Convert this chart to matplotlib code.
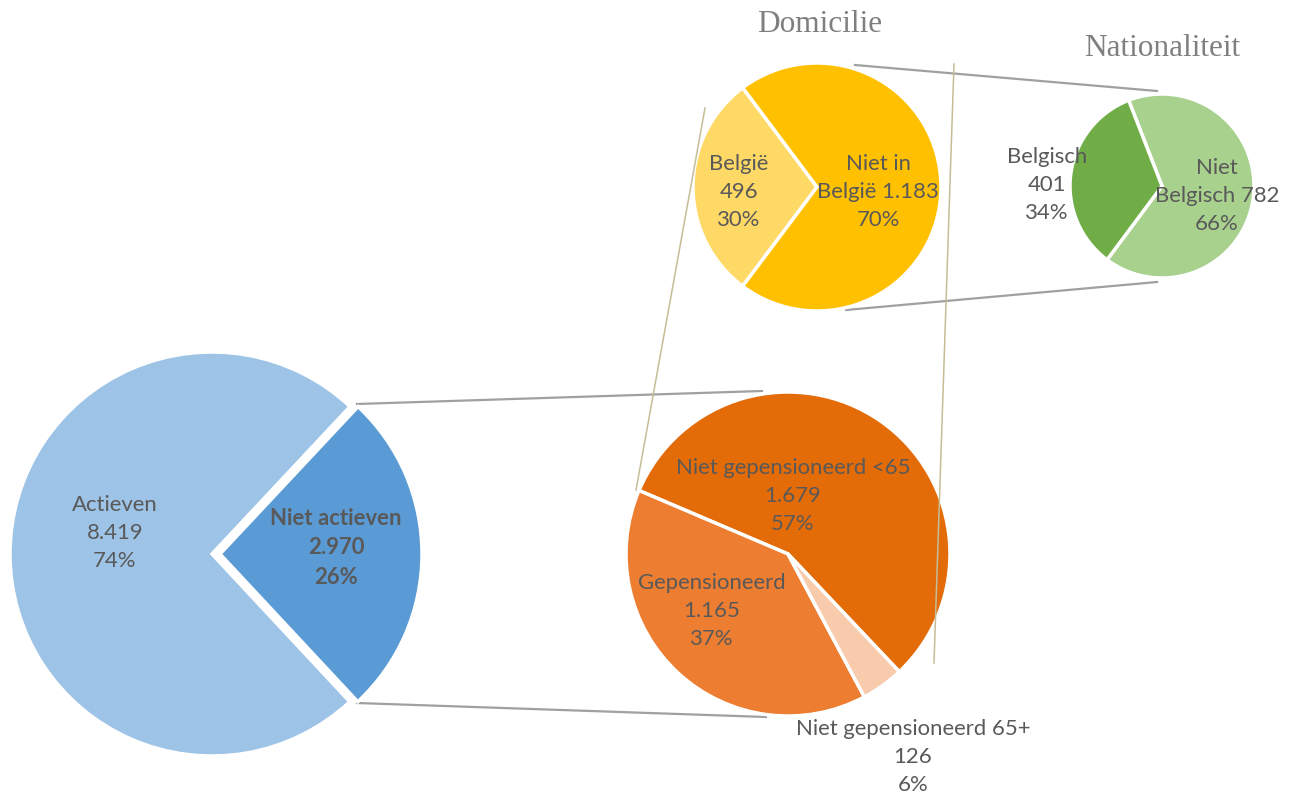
import matplotlib.pyplot as plt

# Activiteit (hoofdcirkel)
act_labels = ['Niet actieven', 'Actieven']
act_waarden = [2970, 8419]
act_pct = ['26%', '74%']

# Uitsplitsing niet actieven
na_labels = ['Niet gepensioneerd <65', 'Gepensioneerd', 'Niet gepensioneerd 65+']
na_waarden = [1679, 1165, 126]
na_pct = ['57%', '37%', '6%']

# Domicilie van niet gepensioneerd <65
dom_labels = ['België', 'Niet in België']
dom_waarden = [496, 1183]
dom_pct = ['30%', '70%']

# Nationaliteit van niet in België
nat_labels = ['Niet Belgisch', 'Belgisch']
nat_waarden = [782, 401]
nat_pct = ['66%', '34%']

W, H = 1289, 794
TXT = '#595959'
plt.rcParams['font.family'] = ['Lato', 'DejaVu Sans']


def getal(v):
    return f'{v:,}'.replace(',', '.')


def tekst(label, v, pct, breek=False):
    if breek:
        a, b = label.rsplit(' ', 1)
        return f'{a}\n{b} {getal(v)}\n{pct}'
    return f'{label}\n{getal(v)}\n{pct}'


def pt(x, y):
    # pixel (van boven) -> data (y omhoog)
    return x, H - y


fig = plt.figure(figsize=(W / 100, H / 100), dpi=100)
ax = fig.add_axes([0, 0, 1, 1])

# verbindingslijnen
grijs = dict(color='#A0A0A0', lw=1.6, zorder=0)
ax.plot(*zip(pt(357, 404), pt(762, 391)), **grijs)
ax.plot(*zip(pt(357, 703), pt(766, 717)), **grijs)
ax.plot(*zip(pt(855, 65), pt(1157, 91)), **grijs)
ax.plot(*zip(pt(846, 310), pt(1157, 282)), **grijs)

# hoofdcirkel
ax.pie(act_waarden, colors=['#5B9BD5', '#9DC3E6'], startangle=-47,
       center=pt(212, 554), radius=202, explode=[8, 0],
       wedgeprops=dict(edgecolor='white', linewidth=2.5))

# niet actieven
ax.pie(na_waarden, colors=['#E36C09', '#ED7D31', '#F8CBAD'], startangle=-46.6,
       center=pt(788, 554), radius=162,
       wedgeprops=dict(edgecolor='white', linewidth=2.5))

# domicilie
ax.pie(dom_waarden, colors=['#FFD966', '#FFC000'], startangle=126.8,
       center=pt(817, 187), radius=124,
       wedgeprops=dict(edgecolor='white', linewidth=2.5))

# nationaliteit
ax.pie(nat_waarden, colors=['#A9D18E', '#70AD47'], startangle=-126.7,
       center=pt(1162, 186), radius=92,
       wedgeprops=dict(edgecolor='white', linewidth=2.5))

# olijfkleurige lijnen bovenop
olijf = dict(color='#C4BD97', lw=1.1, zorder=5)
ax.plot(*zip(pt(705, 108), pt(636, 490)), **olijf)
ax.plot(*zip(pt(954, 64), pt(934, 663)), **olijf)

# labels
fs = 15.9
ls = 1.52
kw = dict(ha='center', va='center', color=TXT, fontsize=fs, linespacing=ls, zorder=6)
ax.text(*pt(115, 533), tekst(act_labels[1], act_waarden[1], act_pct[1]), **kw)
ax.text(*pt(336, 548), tekst(act_labels[0], act_waarden[0], act_pct[0]),
        fontweight='bold', **kw)
ax.text(*pt(793, 496), tekst(na_labels[0], na_waarden[0], na_pct[0]), **kw)
ax.text(*pt(712, 611), tekst(na_labels[1], na_waarden[1], na_pct[1]), **kw)
ax.text(*pt(913, 757), tekst(na_labels[2], na_waarden[2], na_pct[2]), **kw)
ax.text(*pt(739, 192), tekst(dom_labels[0], dom_waarden[0], dom_pct[0]), **kw)
ax.text(*pt(878, 192), tekst(dom_labels[1], dom_waarden[1], dom_pct[1], breek=True), **kw)
ax.text(*pt(1047, 185), tekst(nat_labels[1], nat_waarden[1], nat_pct[1]), **kw)
ax.text(*pt(1217, 196), tekst(nat_labels[0], nat_waarden[0], nat_pct[0], breek=True), **kw)

# titels
tkw = dict(ha='center', va='center', color='#7F7F7F', fontsize=22.5,
           family=['Liberation Serif', 'DejaVu Serif'])
ax.text(*pt(820, 25), 'Domicilie', **tkw)
ax.text(*pt(1162, 48), 'Nationaliteit', **tkw)

ax.set_xlim(0, W)
ax.set_ylim(0, H)
ax.set_aspect('equal')
ax.axis('off')

fig.savefig('out.png', dpi=100)
